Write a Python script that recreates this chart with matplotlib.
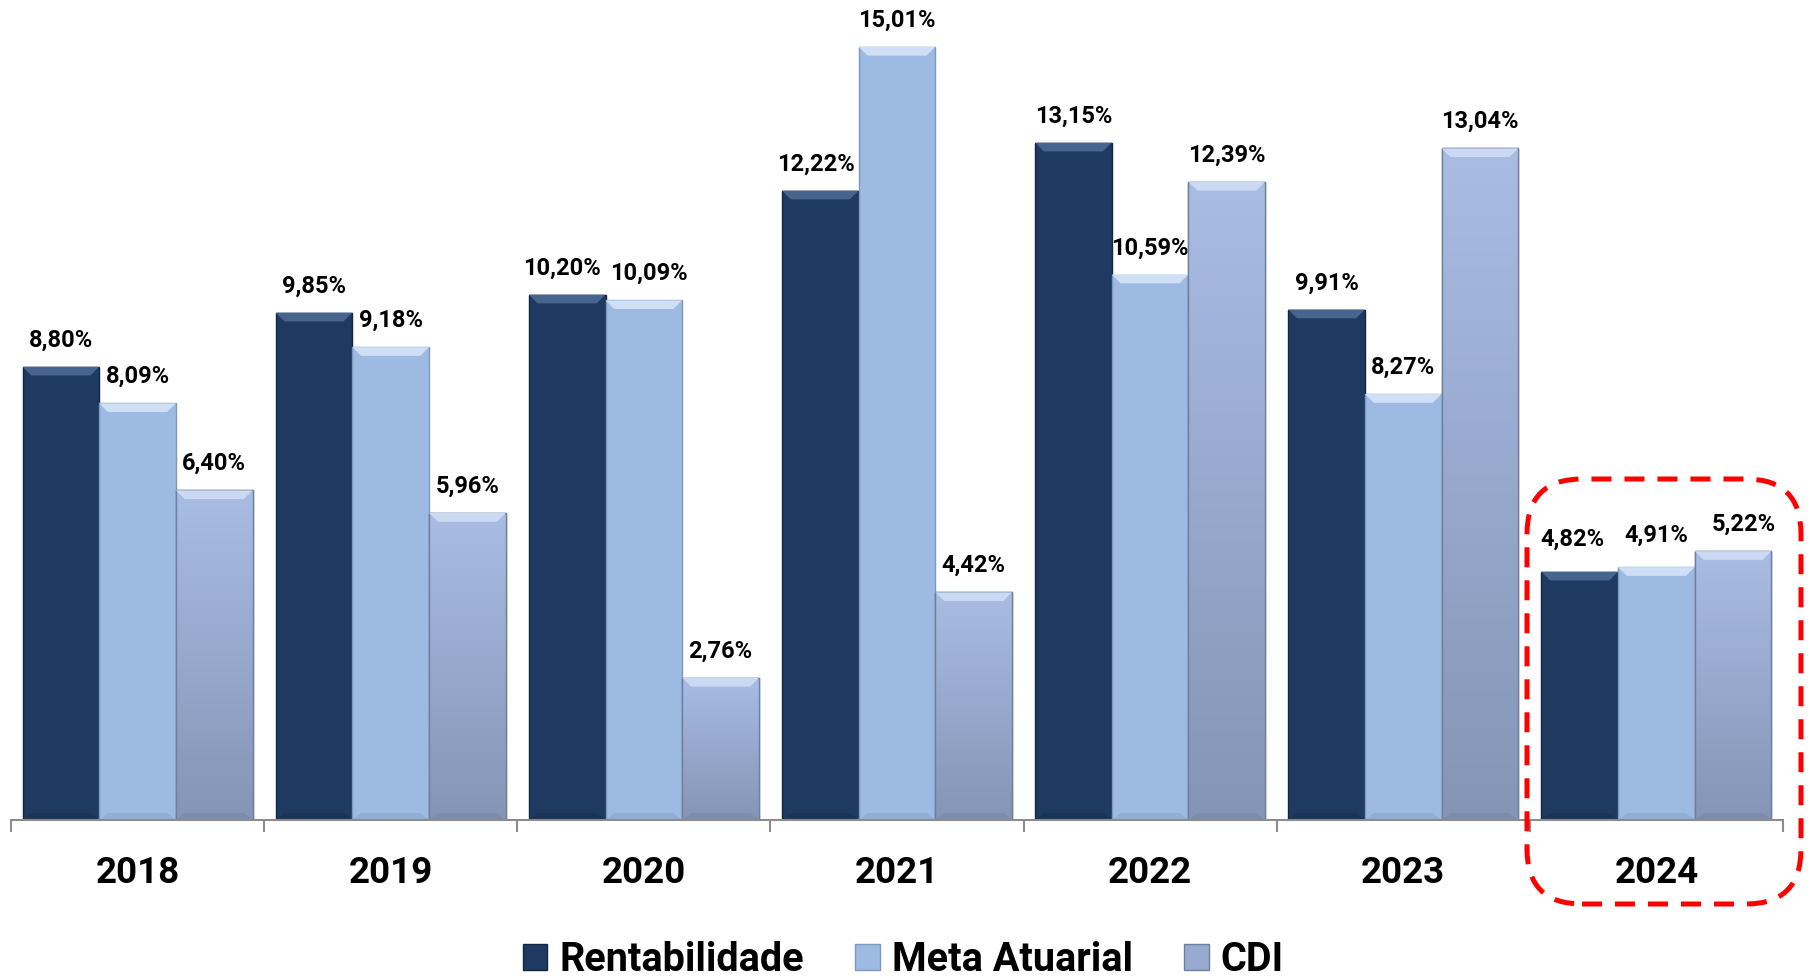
import matplotlib
matplotlib.use("Agg")
import matplotlib.pyplot as plt
import matplotlib.transforms as mtransforms
from matplotlib.patches import Polygon, FancyBboxPatch, Patch
from matplotlib.colors import LinearSegmentedColormap
import numpy as np

years = ["2018", "2019", "2020", "2021", "2022", "2023", "2024"]
series_names = ["Rentabilidade", "Meta Atuarial", "CDI"]
rentabilidade = [8.80, 9.85, 10.20, 12.22, 13.15, 9.91, 4.82]
meta_atuarial = [8.09, 9.18, 10.09, 15.01, 10.59, 8.27, 4.91]
cdi = [6.40, 5.96, 2.76, 4.42, 12.39, 13.04, 5.22]

plt.rcParams['font.family'] = ['Roboto', 'DejaVu Sans']

W, H = 1810, 976
fig = plt.figure(figsize=(W / 100, H / 100), dpi=100)
ax = fig.add_axes([11 / W, 156 / H, 1772 / W, 820 / H])

bw = 0.303
offsets = [-bw, 0.0, bw]
face = ["#1F3A60", "#9DBBE2", None]
bevel = ["#46648E", "#CFE0F6", "#CCD9F2"]
edge = ["#14263F", "#7E98BA", "#6F7F9C"]
ymax = 15.92
x = np.arange(len(years))

# small label nudges (series index, year index) -> (dx pt, dy pt)
label_nudge = {(0, 2): (-4, 0), (1, 2): (3.5, 0), (0, 3): (-3, 0),
               (0, 6): (-5, 4), (1, 6): (0, 4), (2, 6): (8, 0)}

data = [rentabilidade, meta_atuarial, cdi]
grad = np.linspace(0, 1, 256).reshape(-1, 1)
cdi_cmap = LinearSegmentedColormap.from_list("cdi", ["#8495B5", "#A9BCE4"])

for s, vals in enumerate(data):
    for i, v in enumerate(vals):
        xc = x[i] + offsets[s]
        x0, x1 = xc - bw / 2, xc + bw / 2
        if face[s] is None:
            b = ax.bar(xc, v, width=bw, color="#98AACF", edgecolor=edge[s], linewidth=1.0, zorder=2)[0]
            im = ax.imshow(grad, extent=(x0, x1, 0, v), origin="lower", aspect="auto",
                           cmap=cdi_cmap, zorder=2.1)
            im.set_clip_path(b)
            ax.bar(xc, v, width=bw, facecolor="none", edgecolor=edge[s], linewidth=1.0, zorder=2.3)
        else:
            ax.bar(xc, v, width=bw, color=face[s], edgecolor=edge[s], linewidth=1.0, zorder=2)
        dx, dy = 0.035, 0.17
        ax.add_patch(Polygon([(x0, v), (x1, v), (x1 - dx, v - dy), (x0 + dx, v - dy)],
                             closed=True, facecolor=bevel[s], edgecolor="none", zorder=2.5))
        ax.add_patch(Polygon([(x0, 0), (x1, 0), (x1 - dx, dy * 0.8), (x0 + dx, dy * 0.8)],
                             closed=True, facecolor=edge[s], alpha=0.35, edgecolor="none", zorder=2.5))
        ndx, ndy = label_nudge.get((s, i), (0, 0))
        ax.annotate(f"{v:.2f}%".replace(".", ","), (xc, v), xytext=(ndx, 14.5 + ndy),
                    textcoords="offset points", ha="center", va="baseline",
                    fontsize=17, fontweight="bold", color="black", zorder=5)

ax.set_xlim(-0.5, len(years) - 0.5)
ax.set_ylim(0, ymax)
for sp in ["top", "right", "left"]:
    ax.spines[sp].set_visible(False)
ax.spines["bottom"].set_color("#8C8C8C")
ax.spines["bottom"].set_linewidth(1.5)
ax.spines["bottom"].set_zorder(3)
ax.set_yticks([])
ax.set_xticks(np.arange(-0.5, len(years), 1.0))
ax.set_xticklabels([])
ax.tick_params(axis="x", direction="out", length=8.6, width=1.5, color="#8C8C8C")

trans = mtransforms.blended_transform_factory(ax.transData, ax.transAxes)
for i, yr in enumerate(years):
    ax.text(x[i], -63 / 820, yr, transform=trans, ha="center", va="baseline",
            fontsize=26.5, fontweight="bold", color="black")

handles = [Patch(facecolor="#1F3A60", edgecolor="#14263F"),
           Patch(facecolor="#9DBBE2", edgecolor="#7E98BA"),
           Patch(facecolor="#98AACF", edgecolor="#6F7F9C")]
leg = fig.legend(handles, series_names, loc="center", bbox_to_anchor=(0.499, 1 - 960 / H),
                 ncol=3, frameon=False, prop={"size": 28.5, "weight": "bold"},
                 handlelength=0.62, handleheight=0.62, handletextpad=0.3, columnspacing=1.3)

box = FancyBboxPatch((1527, 72), 274, 425, boxstyle="round,pad=0,rounding_size=55",
                     transform=mtransforms.IdentityTransform(), fill=False,
                     edgecolor="#FF0000", linewidth=3.6, linestyle=(0, (4, 2.6)),
                     clip_on=False, zorder=10)
fig.patches.append(box)

fig.savefig("out.png", dpi=100)
